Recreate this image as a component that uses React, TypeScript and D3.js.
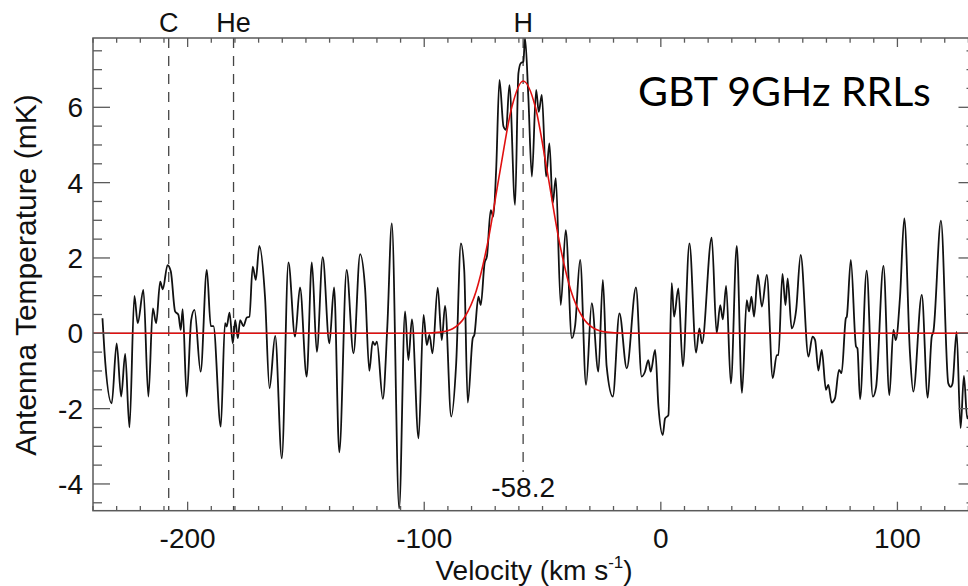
import React from "react";
import * as d3 from "d3";

const velocity = [
  -236, -235.2, -232.1, -230, -228.1, -226.4, -224.6, -222.5, -221.1, -218.7, -216.6, -214.7, -213.3, -211.6,
  -210.5, -208.5, -207.1, -205.3, -203.9, -202.9, -202.1, -200.4, -198.5, -197.1, -194.5, -191.9, -190.2,
  -189.1, -186.0, -184.2, -183.5, -182.3, -180.9, -179.9, -178.8, -177.8, -176.4, -175.0, -173.9, -172.5,
  -171.2, -169.7, -167.3, -165.4, -163.0, -160.2, -157.4, -154.6, -152.5, -149.7, -147.5, -145.4, -142.9,
  -140.1, -138.1, -135.9, -132.8, -129.9, -127.1, -125.0, -123.2, -121.8, -120.8, -120.0, -117.5, -115.6,
  -113.7, -110.6, -108.1, -106.7, -105.2, -102.4, -100.3, -98.9, -97.8, -96.5, -94.3, -92.6, -91.2, -88.6,
  -86.5, -84.5, -83.1, -81.6, -79.5, -78.8, -77.1, -76.1, -74.5, -73.5, -71.9, -70.8, -69.6, -68.2, -66.5,
  -65.4, -64.0, -61.6, -60.2, -59.2, -58.1, -57.4, -56.0, -54.5, -52.7, -51.6, -50.3, -48.5, -47.1, -45.7,
  -44.4, -42.3, -40.2, -37.6, -36.2, -34.1, -31.6, -29.2, -26.4, -24.5, -22.9, -20.3, -17.5, -14.4, -10.5,
  -8.1, -6.7, -5.3, -4.3, -2.4, -1.0, 0.8, 1.8, 3.2, 4.6, 5.6, 7.4, 9.3, 12.1, 14.9, 16.3, 17.4, 21.5, 23.6,
  25.1, 26.2, 27.6, 29.6, 32.1, 34.3, 36.3, 37.3, 38.3, 39.4, 41.0, 42.7, 44.8, 47.3, 49.0, 49.7, 51.4, 52.7,
  53.6, 55.3, 57.2, 59.1, 62.4, 64.1, 65.2, 66.6, 68.0, 69.8, 70.8, 72.2, 73.6, 75.3, 76.4, 78.2, 78.6, 80.3,
  82.5, 83.1, 84.2, 87.0, 89.6, 91.0, 94.1, 96.6, 98.3, 99.3, 101.1, 102.9, 105.3, 106.7, 110.3, 112.8, 114.5,
  115.2, 118.4, 121.5, 122.5, 123.3, 125.0, 126.7, 128.1, 129.5, 131.5,
];
const antennaTemp = [
  0.4, -0.44, -1.86, -0.27, -1.68, -0.55, -2.5, 0.99, 0.27, 1.15, -1.68, 0.66, 0.27, 1.37,
  1.17, 1.81, 1.64, 0.58, 0.49, 0.09, 0.64, -1.68, 0.35, 0.62, -1.02, 1.68, 0.19,
  0.19, -2.48, 0.27, 0.18, 0.55, -0.27, 0.35, -0.13, 0.35, 0.19, 0.42, 0.44, 1.77,
  1.42, 2.32, 0.97, -1.46, -0.07, -3.32, 1.88, -0.09, 1.22, -1.15, 1.88, -0.49, 2.02,
  -0.27, 1.22, -3.16, 1.68, -0.53, 2.1, 1.19, -1.0, -0.22, -0.31, -0.22, -1.74, 0.18,
  2.92, -4.65, 0.58, -0.71, 0.37, -2.79, 0.49, -0.31, -0.04, -0.53, 1.21, -0.18, 0.73, -2.21,
  -0.8, 2.39, 1.68, -1.84, -0.13, -0.04, 0.97, 0.75, 1.86, 2.04, 3.27, 3.1, 4.34, 6.73, 5.49,
  5.4, 6.59, 3.41, 6.9, 7.17, 7.21, 7.84, 6.28, 4.16, 6.46, 5.88, 6.33, 4.16, 5.04, 3.45,
  4.12, 0.75, 2.74, -0.13, 0.22, 1.95, -1.37, 0.8, -1.02, 1.42, -0.88, -1.68, 0.53, -0.93, 1.22,
  -1.15, -1.02, -0.71, -1.02, -0.44, -1.95, -2.7, -2.26, -2.17, 1.33, 0.44, 1.19, -0.88, 2.39, -0.51, 0.13, -0.27, 2.54, 0.0,
  0.75, 0.37, 1.26, -1.33, 2.32, -1.58, 0.88, 0.58, 0.97, 0.44, 1.55, 0.71, 1.55, -1.19, -0.58, -0.58, 1.58, 0.75,
  1.46, 0.13, 0.62, 2.08, -0.62, -0.09, -0.18, -0.99, -0.44, -1.5, -1.37, -1.84, -1.73, -0.97, -1.06, 0.4, 0.44, 1.95,
  -0.35, -0.4, -1.75, 1.66, -1.68, -1.42, 1.79, -1.64, 0.09, -0.18, 0.97, 3.05, -0.53, -1.55, 1.02, -1.71, -0.09,
  0.04, 2.99, -1.33, -1.42, -1.33, 0.04, -2.52, -1.13, -2.26, -1.6,
];

// Gaussian fit (red)
const fitVelocity = [-240, -100, -93, -88, -83, -78, -73, -68, -63, -58.2, -53, -48, -43, -38, -33, -28, -23, -16, 133];
const fitTemp = [0, 0, 0.03, 0.12, 0.42, 1.13, 2.46, 4.29, 6.0, 6.7, 6.0, 4.29, 2.46, 1.13, 0.42, 0.12, 0.03, 0, 0];

// Line markers
const lineNames = ["C", "He", "H"];
const lineVelocities = [-208.0, -180.6, -58.2];
const xTickLabels = [-200, -100, 0, 100];
const yTickLabels = [-4, -2, 0, 2, 4, 6];

const W = 968;
const H = 586;
const left = 93;
const right = 975.5;
const top = 38;
const bottom = 510.7;

export default function App() {
  const x = d3.scaleLinear().domain([-240, 133]).range([left, right]);
  const y = d3.scaleLinear().domain([-4.71, 7.84]).range([bottom, top]);

  const spec = velocity.map((v, i) => [v, antennaTemp[i]] as [number, number]);
  const fit = fitVelocity.map((v, i) => [v, fitTemp[i]] as [number, number]);
  const line = d3
    .line<[number, number]>()
    .x((d) => x(d[0]))
    .y((d) => y(d[1]))
    .curve(d3.curveMonotoneX);

  const xMinor = d3.range(-240, 134, 10);
  const yMinor = d3.range(-4.5, 7.85, 0.5);
  const axisColor = "#5a5a5a";
  const font = "'Liberation Sans', Arial, Helvetica, sans-serif";

  return (
    <svg
      width={W}
      height={H}
      style={{ position: "fixed", left: 0, top: 0, background: "#fff" }}
      fontFamily={font}
    >
      <defs>
        <clipPath id="plotclip">
          <rect x={left} y={top} width={right - left} height={bottom - top} />
        </clipPath>
      </defs>
      <rect x={0} y={0} width={W} height={H} fill="#fff" />

      {/* zero line */}
      <line x1={left} x2={right} y1={y(0)} y2={y(0)} stroke="#8a8a8a" strokeWidth={1.5} />

      {/* dashed line markers */}
      {lineVelocities.map((v, i) => (
        <line
          key={"dl" + i}
          x1={x(v)}
          x2={x(v)}
          y1={top}
          y2={i === 2 ? 472 : bottom}
          stroke="#444"
          strokeWidth={1.3}
          strokeDasharray="10,8"
        />
      ))}

      <g clipPath="url(#plotclip)">
        <path d={line(spec) || ""} fill="none" stroke="#111" strokeWidth={1.8} strokeLinejoin="round" />
        <path d={line(fit) || ""} fill="none" stroke="#e01010" strokeWidth={1.6} />
      </g>

      {/* axes frame */}
      <rect x={left} y={top} width={right - left} height={bottom - top} fill="none" stroke={axisColor} strokeWidth={1.5} />

      {/* x ticks (top and bottom) */}
      {xMinor.map((v) => {
        const major = Math.abs(v % 100) < 1e-6;
        const len = major ? 9 : 4.7;
        return (
          <g key={"xt" + v}>
            <line x1={x(v)} x2={x(v)} y1={bottom} y2={bottom - len} stroke={axisColor} strokeWidth={1.3} />
            <line x1={x(v)} x2={x(v)} y1={top} y2={top + len} stroke={axisColor} strokeWidth={1.3} />
          </g>
        );
      })}
      {/* y ticks (left and right) */}
      {yMinor.map((v) => {
        const major = Math.abs(v % 2) < 1e-6;
        const len = major ? 17 : 9;
        return (
          <g key={"yt" + v}>
            <line x1={left} x2={left + len} y1={y(v)} y2={y(v)} stroke={axisColor} strokeWidth={1.3} />
            <line x1={right} x2={right - len} y1={y(v)} y2={y(v)} stroke={axisColor} strokeWidth={1.3} />
          </g>
        );
      })}

      {/* tick labels */}
      {xTickLabels.map((v) => (
        <text key={"xl" + v} x={x(v)} y={548} textAnchor="middle" fontSize={28} fill="#111">
          {String(v)}
        </text>
      ))}
      {yTickLabels.map((v) => (
        <text key={"yl" + v} x={83} y={y(v) + 10} textAnchor="end" fontSize={28} fill="#111">
          {String(v)}
        </text>
      ))}

      {/* line names */}
      {lineNames.map((n, i) => (
        <text key={"ln" + i} x={x(lineVelocities[i])} y={32} textAnchor="middle" fontSize={27} fill="#111">
          {n}
        </text>
      ))}
      <text x={x(-58.2)} y={497} textAnchor="middle" fontSize={28} fill="#111">
        -58.2
      </text>

      {/* axis titles */}
      <text x={534} y={580} textAnchor="middle" fontSize={28} fill="#111">
        Velocity (km s
        <tspan dy={-12} fontSize={17}>-1</tspan>
        <tspan dy={12}>)</tspan>
      </text>
      <text
        transform={`translate(36, 275) rotate(-90)`}
        textAnchor="middle"
        fontSize={30}
        fill="#111"
      >
        Antenna Temperature (mK)
      </text>

      <text x={638} y={106} fontSize={41} fontFamily="Lato, 'Open Sans', sans-serif" fill="#000">
        GBT 9GHz RRLs
      </text>
    </svg>
  );
}
